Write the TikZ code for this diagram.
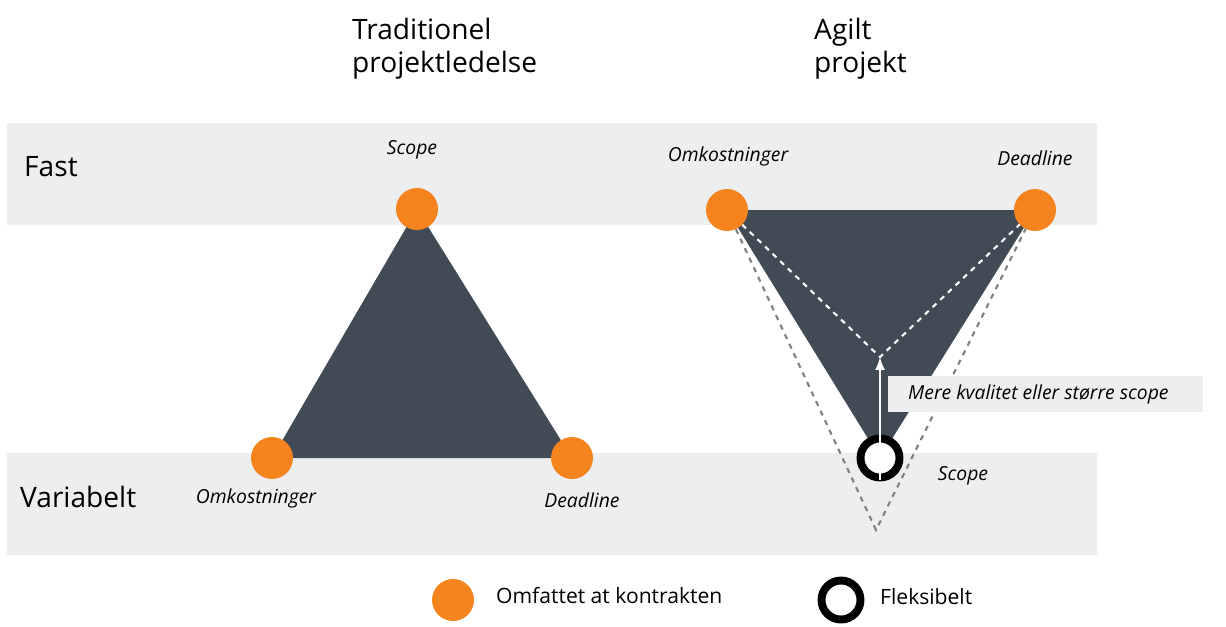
\documentclass[tikz,border=0pt]{standalone}
\usepackage{fontspec}
\setmainfont{Open Sans}
\usetikzlibrary{positioning}
\definecolor{band}{HTML}{EDEEEF}
\definecolor{slate}{HTML}{414B55}
\definecolor{orng}{HTML}{F5841F}
\tikzset{
  dot/.style={circle,fill=orng,minimum size=0.84cm,inner sep=0pt},
  ring/.style={circle,draw=black,line width=4.5pt,fill=white,minimum size=0.78cm,inner sep=0pt},
  lbl/.style={font=\fontsize{11}{13}\selectfont\itshape},
  title/.style={font=\fontsize{16}{19}\selectfont,align=left,anchor=north west},
}
\begin{document}
\begin{tikzpicture}[x=0.02cm,y=-0.02cm]
  \useasboundingbox (0,0) rectangle (1226,626);
  % bands
  \fill[band] (7,123) rectangle (1097,225);
  \fill[band] (7,453) rectangle (1097,555);
  \node[title,anchor=west] (fast) at (18,167) {Fast};
  \node[title,anchor=west] (var) at (14,497) {Variabelt};
  \node[title] (trad) at (346,12) {Traditionel\\projektledelse};
  \node[title] (agil) at (808,12) {Agilt\\projekt};
  % traditional
  \coordinate (ts) at (417,209);
  \coordinate (to) at (272,458);
  \coordinate (td) at (572,458);
  \fill[slate] (ts) -- (to) -- (td) -- cycle;
  \node[dot] (s1) at (ts) {};
  \node[dot] (o1) at (to) {};
  \node[dot] (d1) at (td) {};
  \node[lbl] (ls1) at (412,150) {Scope};
  \node[lbl] (lo1) at (256,498) {Omkostninger};
  \node[lbl] (ld1) at (582,500) {Deadline};
  % agile
  \coordinate (ao) at (727,210);
  \coordinate (ad) at (1035,210);
  \coordinate (as) at (880,458);
  \coordinate (am) at (880,357);
  \coordinate (ab) at (876,530);
  \fill[slate] (ao) -- (ad) -- (as) -- cycle;
  \draw[white,dashed,line width=1.2pt] (ao) -- (am) -- (ad);
  \draw[gray,dashed,line width=1.2pt] (ao) -- (ab) -- (ad);
  \node[ring] (s2) at (as) {};
  \draw[white,line width=1.5pt,-latex] (880,480) -- (am);
  \node[dot] (o2) at (ao) {};
  \node[dot] (d2) at (ad) {};
  \fill[band] (888,376) rectangle (1203,412);
  \node[lbl,anchor=west] (mere) at (902,394) {Mere kvalitet eller større scope};
  \node[lbl] (ls2) at (963,476) {Scope};
  \node[lbl] (lo2) at (728,156) {Omkostninger};
  \node[lbl] (ld2) at (1035,158) {Deadline};
  % legend
  \node[dot] (k1) at (453,600) {};
  \node[anchor=west,font=\fontsize{12}{14}\selectfont] (t1) at (490,596) {Omfattet at kontrakten};
  \node[ring] (k2) at (841,600) {};
  \node[anchor=west,font=\fontsize{12}{14}\selectfont] (t2) at (874,597) {Fleksibelt};
\end{tikzpicture}
\end{document}
